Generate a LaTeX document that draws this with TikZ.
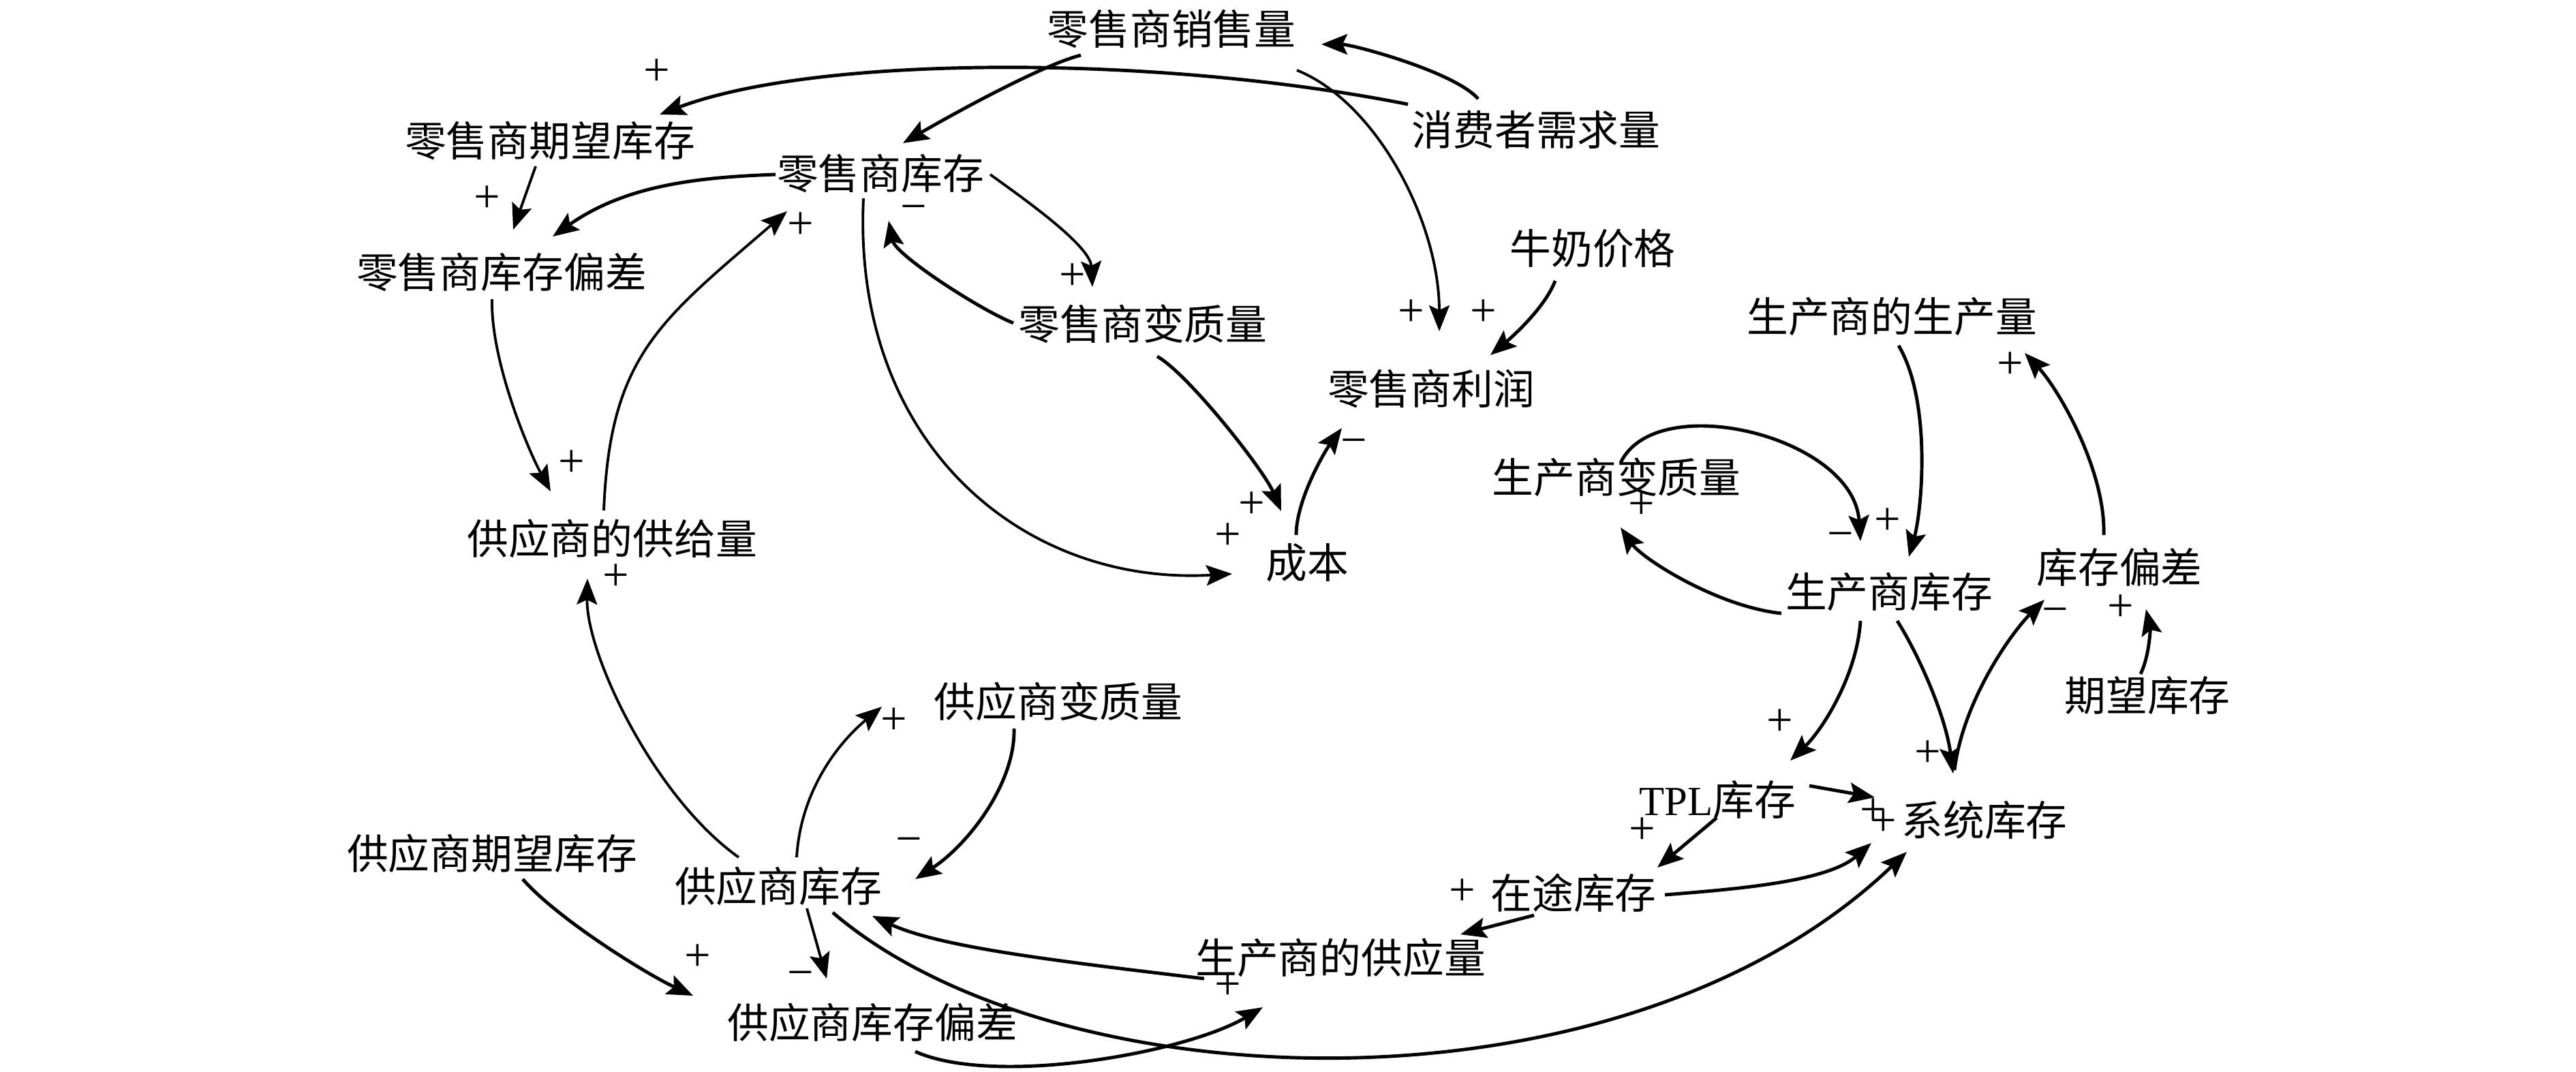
\documentclass[tikz,border=0pt]{standalone}
\usepackage{fontspec}
\setmainfont{Liberation Serif}
\newfontfamily\cjk{Noto Sans CJK SC}
\usetikzlibrary{arrows.meta}
\tikzset{
  v/.style={inner sep=0pt, font=\fontsize{17.3pt}{20pt}\selectfont\cjk},
  sg/.style={inner sep=0pt, text height=0.5em, text depth=0pt, font=\fontsize{19.5pt}{22pt}\selectfont\rmfamily},
  arr/.style={-{Stealth[length=0.38cm,width=0.30cm,inset=0.07cm]}, line width=1.4pt},
  arrt/.style={-{Stealth[length=0.38cm,width=0.30cm,inset=0.07cm]}, line width=1.1pt}
}
\begin{document}
\begin{tikzpicture}
\fill[white] (0,0) rectangle (37.8,-15.72);
\useasboundingbox (0,0) rectangle (37.8,-15.72);
% variables
\node[v] (rsales) at (17.19,-0.43) {零售商销售量};
\node[v] (cdemand) at (22.54,-1.90) {消费者需求量};
\node[v] (rexp) at (8.07,-2.07) {零售商期望库存};
\node[v] (rinv) at (12.92,-2.54) {零售商库存};
\node[v] (rdev) at (7.36,-3.99) {零售商库存偏差};
\node[v] (rdet) at (16.77,-4.75) {零售商变质量};
\node[v] (milk) at (23.37,-3.65) {牛奶价格};
\node[v] (rprofit) at (21.00,-5.70) {零售商利润};
\node[v] (cost) at (19.18,-8.26) {成本};
\node[v] (ssupply) at (8.98,-7.90) {供应商的供给量};
\node[v] (pprod) at (27.76,-4.64) {生产商的生产量};
\node[v] (pdet) at (23.72,-7.00) {生产商变质量};
\node[v] (pinv) at (27.72,-8.68) {生产商库存};
\node[v] (idev) at (31.10,-8.32) {库存偏差};
\node[v] (einv) at (31.51,-10.21) {期望库存};
\node[v] (tpl) at (25.20,-11.74) {{\rmfamily TPL}库存};
\node[v] (sys) at (29.12,-12.03) {系统库存};
\node[v] (transit) at (23.09,-13.10) {在途库存};
\node[v] (psupply) at (19.67,-14.05) {生产商的供应量};
\node[v] (sdet) at (15.53,-10.29) {供应商变质量};
\node[v] (sexp) at (7.22,-12.52) {供应商期望库存};
\node[v] (sinv) at (11.42,-13.00) {供应商库存};
\node[v] (sdev) at (12.80,-15.00) {供应商库存偏差};
% links
\draw[arr] ([shift={(-1.88,0.37)}]cdemand.center) .. controls +(-3.66,0.73) and +(2.32,0.88) .. ([shift={(1.61,0.39)}]rexp.center);
\draw[arr] ([shift={(-0.85,0.45)}]cdemand.center) .. controls +(-0.35,0.40) and +(0.45,0) .. ([shift={(2.20,-0.22)}]rsales.center);
\draw[arr] ([shift={(-1.33,-0.38)}]rsales.center) .. controls +(-0.60,-0.15) and +(0.60,0.35) .. ([shift={(0.33,0.44)}]rinv.center);
\draw[arrt] ([shift={(1.84,-0.60)}]rsales.center) .. controls +(1.17,-0.47) and +(0,1.60) .. ([shift={(0.12,0.84)}]rprofit.center);
\draw[arr] ([shift={(-0.55,-0.47)}]milk.center) .. controls +(-0.15,-0.40) and +(0.30,0.25) .. ([shift={(0.87,0.49)}]rprofit.center);
\draw[arrt] ([shift={(-0.21,-0.37)}]rexp.center) -- ([shift={(0.17,0.62)}]rdev.center);
\draw[arr] ([shift={(-1.54,-0.02)}]rinv.center) .. controls +(-1.08,-0.04) and +(1.09,0.77) .. ([shift={(0.75,0.52)}]rdev.center);
\draw[arrt] ([shift={(1.61,-0.02)}]rinv.center) .. controls +(0.47,-0.34) and +(-0.03,0.61) .. ([shift={(-0.74,0.54)}]rdet.center);
\draw[arr] ([shift={(-1.90,0.01)}]rdet.center) .. controls +(-0.50,0.20) and +(0.10,-0.50) .. ([shift={(0.12,-0.70)}]rinv.center);
\draw[arr] ([shift={(0.21,-0.48)}]rdet.center) .. controls +(0.45,-0.25) and +(-0.25,0.60) .. ([shift={(-0.38,0.76)}]cost.center);
\draw[arr] ([shift={(-0.16,0.41)}]cost.center) .. controls +(0,0.50) and +(-0.27,-0.37) .. ([shift={(-1.31,-0.58)}]rprofit.center);
\draw[arrt] ([shift={(-0.25,-0.37)}]rinv.center) .. controls +(-0.17,-3.59) and +(-3.08,-0.18) .. ([shift={(-1.10,-0.16)}]cost.center);
\draw[arrt] ([shift={(-0.14,-0.40)}]rdev.center) .. controls +(-0.02,-0.91) and +(-0.33,0.61) .. ([shift={(-0.90,0.69)}]ssupply.center);
\draw[arrt] ([shift={(-0.12,0.41)}]ssupply.center) .. controls +(0.09,2.29) and +(-1.85,-1.60) .. ([shift={(-1.37,-0.56)}]rinv.center);
\draw[arrt] ([shift={(-0.58,0.42)}]sinv.center) .. controls +(-1.24,0.88) and +(-0.02,-1.11) .. ([shift={(-0.36,-0.59)}]ssupply.center);
\draw[arrt] ([shift={(0.27,0.42)}]sinv.center) .. controls +(0.06,0.98) and +(-0.64,-0.53) .. ([shift={(-2.59,-0.08)}]sdet.center);
\draw[arr] ([shift={(-0.65,-0.40)}]sdet.center) .. controls +(0.02,-0.81) and +(0.77,0.50) .. ([shift={(2.01,0.10)}]sinv.center);
\draw[arr] ([shift={(0.45,-0.38)}]sexp.center) .. controls +(0.53,-0.60) and +(-0.67,0.31) .. ([shift={(-2.63,0.39)}]sdev.center);
\draw[arrt] ([shift={(0.42,-0.33)}]sinv.center) -- ([shift={(-0.67,0.64)}]sdev.center);
\draw[arr] ([shift={(-2.00,-0.31)}]psupply.center) .. controls +(-2.17,0.26) and +(1.00,-0.46) .. ([shift={(1.38,-0.44)}]sinv.center);
\draw[arr] ([shift={(0.80,-0.39)}]sinv.center) .. controls +(3.28,-2.81) and +(-4.18,-4.00) .. ([shift={(-1.14,-0.47)}]sys.center);
\draw[arr] ([shift={(0.63,-0.43)}]sdev.center) .. controls +(1.17,-0.52) and +(-1.13,-0.67) .. ([shift={(-1.14,-0.73)}]psupply.center);
\draw[arr] ([shift={(-0.58,-0.33)}]transit.center) -- ([shift={(1.76,0.34)}]psupply.center);
\draw[arr] ([shift={(1.34,-0.03)}]transit.center) .. controls +(0.97,0.08) and +(-0.66,-0.58) .. ([shift={(-1.66,-0.34)}]sys.center);
\draw[arr] ([shift={(-0.01,-0.26)}]tpl.center) -- ([shift={(1.23,0.37)}]transit.center);
\draw[arr] ([shift={(1.35,0.21)}]tpl.center) -- ([shift={(-1.61,0.33)}]sys.center);
\draw[arr] ([shift={(-0.42,-0.43)}]pinv.center) .. controls +(-0.05,-0.79) and +(0.48,0.46) .. ([shift={(1.07,0.58)}]tpl.center);
\draw[arr] ([shift={(0.12,-0.43)}]pinv.center) .. controls +(0.31,-0.49) and +(-0.11,0.85) .. ([shift={(-0.46,0.68)}]sys.center);
\draw[arr] ([shift={(-0.44,0.73)}]sys.center) .. controls +(0.12,1.0) and +(-0.50,-0.50) .. ([shift={(-1.10,-0.48)}]idev.center);
\draw[arr] ([shift={(-0.10,0.32)}]einv.center) .. controls +(0.14,0.29) and +(0.06,-0.26) .. ([shift={(0.39,-0.62)}]idev.center);
\draw[arr] ([shift={(-0.23,0.47)}]idev.center) .. controls +(0.03,0.95) and +(0.49,-0.52) .. ([shift={(1.95,-0.54)}]pprod.center);
\draw[arr] ([shift={(0.10,-0.43)}]pprod.center) .. controls +(0.49,-0.83) and +(0.19,0.67) .. ([shift={(0.29,0.51)}]pinv.center);
\draw[arr] ([shift={(0.06,0.21)}]pdet.center) .. controls +(0.52,1.09) and +(-0.10,1.54) .. ([shift={(-0.42,0.74)}]pinv.center);
\draw[arr] ([shift={(-1.58,-0.32)}]pinv.center) .. controls +(-0.94,0.10) and +(0.32,-0.46) .. ([shift={(0.06,-0.74)}]pdet.center);
% polarity signs
\node[sg] (l1) at (9.64,-1.17) {+};
\node[sg] (l2) at (20.71,-4.70) {+};
\node[sg] (l3) at (21.77,-4.70) {+};
\node[sg] (l4) at (7.15,-3.03) {+};
\node[sg] (l5) at (15.74,-4.17) {+};
\node[sg] (l6) at (13.41,-3.17) {−};
\node[sg] (l7) at (18.37,-7.52) {+};
\node[sg] (l8) at (19.87,-6.60) {−};
\node[sg] (l9) at (18.02,-7.98) {+};
\node[sg] (l10) at (8.39,-6.91) {+};
\node[sg] (l11) at (11.75,-3.42) {+};
\node[sg] (l12) at (9.04,-8.58) {+};
\node[sg] (l13) at (13.12,-10.69) {+};
\node[sg] (l14) at (13.34,-12.45) {−};
\node[sg] (l15) at (10.24,-14.16) {+};
\node[sg] (l16) at (11.75,-14.41) {−};
\node[sg] (l17) at (18.02,-14.58) {+};
\node[sg] (l18) at (21.46,-13.20) {+};
\node[sg] (l19) at (24.10,-12.30) {+};
\node[sg] (l20) at (27.49,-12.02) {+};
\node[sg] (l21) at (27.64,-12.18) {+};
\node[sg] (l22) at (26.12,-10.71) {+};
\node[sg] (l23) at (28.29,-11.17) {+};
\node[sg] (l24) at (30.16,-9.08) {−};
\node[sg] (l25) at (31.12,-9.03) {+};
\node[sg] (l26) at (29.50,-5.47) {+};
\node[sg] (l27) at (27.70,-7.76) {+};
\node[sg] (l28) at (27.01,-7.97) {−};
\node[sg] (l29) at (24.09,-7.53) {+};
\end{tikzpicture}
\end{document}
